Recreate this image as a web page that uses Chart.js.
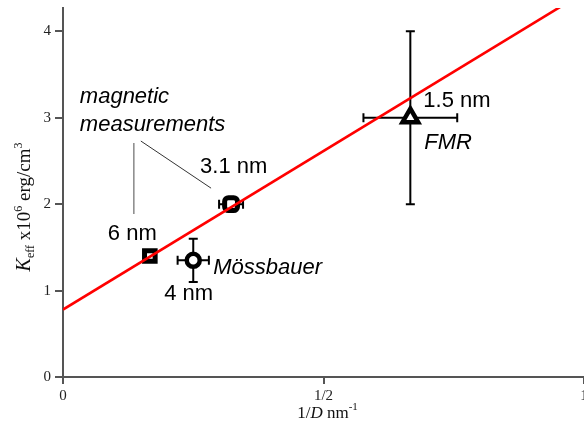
<!DOCTYPE html>
<html>
<head>
<meta charset="utf-8">
<script src="https://cdn.jsdelivr.net/npm/chart.js@4.4.0/dist/chart.umd.min.js"></script>
<style>
  html, body { margin: 0; padding: 0; background: #fff; overflow: hidden; }
  #wrap { width: 584px; height: 425px; overflow: hidden; }
</style>
</head>
<body>
<div id="wrap"><canvas id="chart" width="600" height="425"></canvas></div>
<script>
// particle diameter D (nm), K_eff (10^6 erg/cm^3) and error bars (in 1/D and K)
const magneticD = [6, 3.1];
const magneticK = [1.4, 2.0];
const magneticErrX = [0.006, 0.023];
const magneticErrK = [0.03, 0.08];

const mossD = [4];
const mossK = [1.35];
const mossErrX = [0.03];
const mossErrK = [0.25];

const fmrD = [1.5];
const fmrK = [3.0];
const fmrErrX = [0.09];
const fmrErrK = [1.0];

// straight-line fit of K_eff against 1/D
const fitX = [0, 1];
const fitK = [0.78, 4.45];

const xTicks = [0, 0.5, 1];
const xTickLabels = ['0', '1/2', '1'];
const yTicks = [0, 1, 2, 3, 4];

const toPoints = (D, K, ex, ek) =>
  D.map((d, i) => ({ x: 1 / d, y: K[i], ex: ex[i], ek: ek[i], d: d }));

const SERIF = '"Liberation Serif", "Times New Roman", serif';
const SANS = '"Liberation Sans", Arial, sans-serif';

// horizontal + vertical error bars with caps, drawn under the markers
const errorBars = {
  id: 'errorBars',
  beforeDatasetsDraw(chart) {
    const { ctx, scales: { x, y } } = chart;
    const cap = 4.5;
    ctx.save();
    ctx.strokeStyle = '#000';
    ctx.lineWidth = 2;
    chart.data.datasets.forEach(ds => {
      if (!ds.errorBars) return;
      ds.data.forEach(p => {
        const px = x.getPixelForValue(p.x), py = y.getPixelForValue(p.y);
        const x0 = x.getPixelForValue(p.x - p.ex), x1 = x.getPixelForValue(p.x + p.ex);
        const y0 = y.getPixelForValue(p.y - p.ek), y1 = y.getPixelForValue(p.y + p.ek);
        ctx.beginPath();
        ctx.moveTo(x0, py); ctx.lineTo(x1, py);
        ctx.moveTo(x0, py - cap); ctx.lineTo(x0, py + cap);
        ctx.moveTo(x1, py - cap); ctx.lineTo(x1, py + cap);
        ctx.moveTo(px, y0); ctx.lineTo(px, y1);
        ctx.moveTo(px - cap, y0); ctx.lineTo(px + cap, y0);
        ctx.moveTo(px - cap, y1); ctx.lineTo(px + cap, y1);
        ctx.stroke();
      });
    });
    ctx.restore();
  }
};

// text made of runs with their own font and baseline shift, centred on x
function drawRuns(ctx, runs, x, y) {
  let total = 0;
  runs.forEach(r => { ctx.font = r[1]; total += ctx.measureText(r[0]).width; });
  let cx = x - total / 2;
  runs.forEach(r => {
    ctx.font = r[1];
    ctx.fillText(r[0], cx, y + (r[2] || 0));
    cx += ctx.measureText(r[0]).width;
  });
}

// axis titles with sub/superscripts
const axisTitles = {
  id: 'axisTitles',
  afterDraw(chart) {
    const { ctx, chartArea } = chart;
    ctx.save();
    ctx.fillStyle = '#111';
    ctx.textBaseline = 'alphabetic';
    ctx.textAlign = 'left';
    const xc = (chartArea.left + chartArea.right) / 2 + 4;
    drawRuns(ctx, [
      ['1/', '17px ' + SERIF],
      ['D', 'italic 17px ' + SERIF],
      [' nm', '17px ' + SERIF],
      ['-1', '11px ' + SERIF, -8]
    ], xc, 418);

    ctx.translate(30, 207);
    ctx.rotate(-Math.PI / 2);
    drawRuns(ctx, [
      ['K', 'italic 20px ' + SERIF],
      ['eff', '12px ' + SERIF, 4],
      [' x10', '19px ' + SERIF],
      ['6', '12px ' + SERIF, -8],
      [' erg/cm', '19px ' + SERIF],
      ['3', '12px ' + SERIF, -8]
    ], 0, 0);
    ctx.restore();
  }
};

// size labels next to each point, method names and the pointer lines
const notes = {
  id: 'notes',
  afterDraw(chart) {
    const { ctx, scales: { x, y } } = chart;
    const pix = p => ({ x: x.getPixelForValue(p.x), y: y.getPixelForValue(p.y) });
    const ds = chart.data.datasets;
    const mag = ds[1].data.map(pix);
    const mos = ds[2].data.map(pix);
    const fmr = ds[3].data.map(pix);
    const up = '22px ' + SANS, it = 'italic 22px ' + SANS;

    ctx.save();
    ctx.fillStyle = '#000';
    ctx.textAlign = 'left';
    ctx.textBaseline = 'alphabetic';

    ctx.font = up;
    ctx.fillText(ds[1].data[0].d + ' nm', mag[0].x - 42, mag[0].y - 16);
    ctx.fillText(ds[1].data[1].d + ' nm', mag[1].x - 31, mag[1].y - 31);
    ctx.fillText(ds[2].data[0].d + ' nm', mos[0].x - 29, mos[0].y + 40);
    ctx.fillText(ds[3].data[0].d + ' nm', fmr[0].x + 13, fmr[0].y - 11);

    ctx.font = it;
    ctx.fillText('Mössbauer', mos[0].x + 20, mos[0].y + 14);
    ctx.fillText('FMR', fmr[0].x + 14, fmr[0].y + 31);
    ctx.fillText('magnetic', mag[0].x - 70, mag[0].y - 153);
    ctx.fillText('measurements', mag[0].x - 70, mag[0].y - 125);

    ctx.strokeStyle = '#888';
    ctx.lineWidth = 1.5;
    ctx.beginPath();
    ctx.moveTo(mag[0].x - 16, mag[0].y - 113);
    ctx.lineTo(mag[0].x - 16, mag[0].y - 42);
    ctx.stroke();

    ctx.strokeStyle = '#333';
    ctx.lineWidth = 1;
    ctx.beginPath();
    ctx.moveTo(mag[0].x - 9, mag[0].y - 115);
    ctx.lineTo(mag[1].x - 20, mag[1].y - 16);
    ctx.stroke();
    ctx.restore();
  }
};

const axisColor = '#555';

new Chart(document.getElementById('chart'), {
  type: 'scatter',
  data: {
    datasets: [
      {
        label: 'fit',
        data: fitX.map((v, i) => ({ x: v, y: fitK[i] })),
        showLine: true,
        borderColor: '#ff0000',
        borderWidth: 2.6,
        pointRadius: 0
      },
      {
        label: 'magnetic measurements',
        data: toPoints(magneticD, magneticK, magneticErrX, magneticErrK),
        errorBars: true,
        pointStyle: ['rect', 'rectRounded'],
        pointRadius: 7.5,
        borderWidth: 5,
        borderColor: '#000',
        backgroundColor: '#fff'
      },
      {
        label: 'Mössbauer',
        data: toPoints(mossD, mossK, mossErrX, mossErrK),
        errorBars: true,
        pointStyle: 'circle',
        pointRadius: 6.5,
        borderWidth: 4.5,
        borderColor: '#000',
        backgroundColor: '#fff'
      },
      {
        label: 'FMR',
        data: toPoints(fmrD, fmrK, fmrErrX, fmrErrK),
        errorBars: true,
        pointStyle: 'triangle',
        pointRadius: 9,
        borderWidth: 4.5,
        borderColor: '#000',
        backgroundColor: '#fff'
      }
    ]
  },
  options: {
    responsive: false,
    animation: false,
    events: [],
    layout: { autoPadding: false, padding: { left: 0, right: 16, top: 8, bottom: 0 } },
    plugins: {
      legend: { display: false },
      tooltip: { enabled: false }
    },
    scales: {
      x: {
        type: 'linear',
        min: 0,
        max: 1,
        afterBuildTicks: s => { s.ticks = xTicks.map(v => ({ value: v })); },
        afterFit: s => { s.height = 48; s.paddingLeft = 0; s.paddingRight = 0; },
        border: { display: true, color: axisColor, width: 2 },
        grid: { drawOnChartArea: false, drawTicks: true, tickLength: 7, color: axisColor, lineWidth: 2 },
        ticks: {
          color: '#222',
          padding: 3,
          font: { family: SERIF, size: 15 },
          callback: v => xTickLabels[xTicks.indexOf(v)]
        }
      },
      y: {
        type: 'linear',
        min: 0,
        max: 4.27,
        afterBuildTicks: s => { s.ticks = yTicks.map(v => ({ value: v })); },
        afterFit: s => { s.width = 63; s.paddingTop = 0; s.paddingBottom = 0; },
        border: { display: true, color: axisColor, width: 2 },
        grid: { drawOnChartArea: false, drawTicks: true, tickLength: 8, color: axisColor, lineWidth: 2 },
        ticks: {
          color: '#222',
          padding: 4,
          font: { family: SERIF, size: 15 },
          callback: v => String(v)
        }
      }
    }
  },
  plugins: [errorBars, axisTitles, notes]
});
</script>
</body>
</html>
